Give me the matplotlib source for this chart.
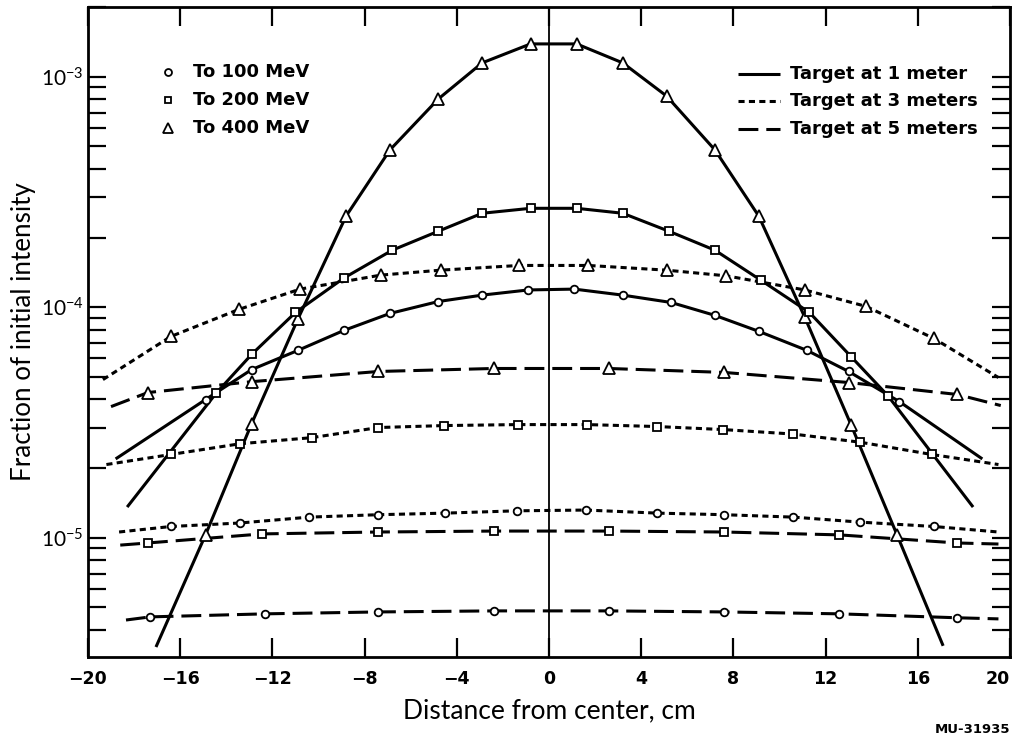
import matplotlib
matplotlib.use("Agg")
import matplotlib.pyplot as plt
from matplotlib.ticker import LogLocator, NullFormatter

# ---------------- data ----------------
xticks = [-20, -16, -12, -8, -4, 0, 4, 8, 12, 16, 20]
xtick_labels = ["\u221220", "\u221216", "\u221212", "\u22128", "\u22124", "0", "4", "8", "12", "16", "20"]
yticks = [1e-5, 1e-4, 1e-3]
ytick_labels = [r"$10^{-5}$", r"$10^{-4}$", r"$10^{-3}$"]

# 400 MeV, target at 1 m (solid, triangles)
a_mx = [-14.9, -12.9, -10.9, -8.8, -6.9, -4.8, -2.9, -0.8, 1.2, 3.2, 5.1, 7.2, 9.1, 11.1, 13.1, 15.1]
a_my = [1.03e-5, 3.13e-5, 8.87e-5, 2.49e-4, 4.82e-4, 8.02e-4, 1.15e-3, 1.39e-3, 1.39e-3, 1.15e-3,
        8.26e-4, 4.82e-4, 2.49e-4, 9.05e-5, 3.1e-5, 1.03e-5]
a_end_x = [-17.05, 17.1]
a_end_y = [3.36e-6, 3.4e-6]

# 200 MeV, 1 m (solid, squares)
b_mx = [-14.45, -12.9, -11.0, -8.9, -6.8, -4.8, -2.9, -0.8, 1.2, 3.2, 5.2, 7.2, 9.2, 11.3, 13.1, 14.7]
b_my = [4.23e-5, 6.25e-5, 9.5e-5, 1.34e-4, 1.77e-4, 2.14e-4, 2.56e-4, 2.69e-4, 2.69e-4, 2.56e-4,
        2.14e-4, 1.77e-4, 1.31e-4, 9.5e-5, 6.12e-5, 4.14e-5]
b_end_x = [-18.3, 18.4]
b_end_y = [1.36e-5, 1.36e-5]

# 100 MeV, 1 m (solid, circles)
c_mx = [-14.9, -12.9, -10.9, -8.9, -6.9, -4.8, -2.9, -0.9, 1.1, 3.2, 5.3, 7.2, 9.1, 11.2, 13.0, 15.2]
c_my = [3.98e-5, 5.37e-5, 6.5e-5, 7.94e-5, 9.41e-5, 1.06e-4, 1.13e-4, 1.19e-4, 1.2e-4, 1.13e-4,
        1.05e-4, 9.23e-5, 7.87e-5, 6.5e-5, 5.27e-5, 3.9e-5]
c_end_x = [-18.8, 18.8]
c_end_y = [2.2e-5, 2.2e-5]

# 400 MeV, 3 m (dotted, triangles)
d_mx = [-16.4, -13.45, -10.8, -7.3, -4.7, -1.3, 1.7, 5.1, 7.7, 11.1, 13.75, 16.7]
d_my = [7.48e-5, 9.8e-5, 1.2e-4, 1.38e-4, 1.45e-4, 1.52e-4, 1.52e-4, 1.45e-4, 1.37e-4, 1.19e-4,
        1.01e-4, 7.33e-5]
d_end_x = [-19.35, 19.5]
d_end_y = [4.86e-5, 4.96e-5]

# 400 MeV, 5 m (dashed, triangles)
e_mx = [-17.4, -12.9, -7.4, -2.4, 2.6, 7.6, 13.0, 17.7]
e_my = [4.27e-5, 4.76e-5, 5.27e-5, 5.43e-5, 5.43e-5, 5.22e-5, 4.72e-5, 4.19e-5]
e_end_x = [-19.0, 19.6]
e_end_y = [3.71e-5, 3.75e-5]

# 200 MeV, 3 m (dotted, squares)
f_mx = [-16.4, -13.4, -10.3, -7.4, -4.55, -1.35, 1.65, 4.7, 7.55, 10.6, 13.5, 16.6]
f_my = [2.3e-5, 2.56e-5, 2.72e-5, 3.01e-5, 3.07e-5, 3.1e-5, 3.1e-5, 3.04e-5, 2.95e-5, 2.82e-5,
        2.6e-5, 2.3e-5]
f_end_x = [-19.2, 19.5]
f_end_y = [2.08e-5, 2.08e-5]

# 100 MeV, 3 m (dotted, circles)
g_mx = [-16.4, -13.4, -10.4, -7.4, -4.5, -1.4, 1.6, 4.7, 7.6, 10.6, 13.5, 16.7]
g_my = [1.12e-5, 1.16e-5, 1.23e-5, 1.26e-5, 1.28e-5, 1.31e-5, 1.32e-5, 1.28e-5, 1.26e-5, 1.23e-5,
        1.17e-5, 1.12e-5]
g_end_x = [-18.65, 19.5]
g_end_y = [1.06e-5, 1.06e-5]

# 200 MeV, 5 m (dashed, squares)
h_mx = [-17.4, -12.45, -7.4, -2.4, 2.6, 7.6, 12.6, 17.7]
h_my = [9.5e-6, 1.04e-5, 1.06e-5, 1.07e-5, 1.07e-5, 1.06e-5, 1.03e-5, 9.5e-6]
h_end_x = [-18.6, 19.5]
h_end_y = [9.3e-6, 9.4e-6]

# 100 MeV, 5 m (dashed, circles)
i_mx = [-17.3, -12.3, -7.4, -2.4, 2.6, 7.6, 12.6, 17.7]
i_my = [4.54e-6, 4.68e-6, 4.77e-6, 4.82e-6, 4.82e-6, 4.77e-6, 4.68e-6, 4.5e-6]
i_end_x = [-18.35, 19.5]
i_end_y = [4.4e-6, 4.45e-6]

energy_labels = ["To 100 MeV", "To 200 MeV", "To 400 MeV"]
target_labels = ["Target at 1 meter", "Target at 3 meters", "Target at 5 meters"]

# ---------------- styling ----------------
plt.rcParams["font.family"] = ["Lato", "DejaVu Sans"]
plt.rcParams["mathtext.fontset"] = "custom"
plt.rcParams["mathtext.rm"] = "Lato"
plt.rcParams["mathtext.it"] = "Lato"
plt.rcParams["mathtext.bf"] = "Lato:bold"
BOLD = ["DejaVu Sans"]

LW = 2.2
styles = {
    "solid": dict(linestyle="-"),
    "dotted": dict(linestyle=(0, (2.0, 1.4))),
    "dashed": dict(linestyle=(0, (6.5, 2.6))),
}
markers = {"o": dict(marker="o", ms=5.5), "s": dict(marker="s", ms=5.5), "^": dict(marker="^", ms=8)}

fig = plt.figure(figsize=(10.17, 7.44), dpi=100)
ax = fig.add_axes([0.0865, 0.1169, 0.9066, 0.8737])

curves = [
    (a_mx, a_my, a_end_x, a_end_y, "solid", "^"),
    (b_mx, b_my, b_end_x, b_end_y, "solid", "s"),
    (c_mx, c_my, c_end_x, c_end_y, "solid", "o"),
    (d_mx, d_my, d_end_x, d_end_y, "dotted", "^"),
    (e_mx, e_my, e_end_x, e_end_y, "dashed", "^"),
    (f_mx, f_my, f_end_x, f_end_y, "dotted", "s"),
    (g_mx, g_my, g_end_x, g_end_y, "dotted", "o"),
    (h_mx, h_my, h_end_x, h_end_y, "dashed", "s"),
    (i_mx, i_my, i_end_x, i_end_y, "dashed", "o"),
]

ax.axvline(0, color="black", lw=1.3, zorder=1)

for mx, my, ex, ey, ls, mk in curves:
    lx = [ex[0]] + list(mx) + [ex[1]]
    ly = [ey[0]] + list(my) + [ey[1]]
    ax.plot(lx, ly, color="black", lw=LW, zorder=2, solid_capstyle="butt",
            dash_capstyle="butt", **styles[ls])
    ax.plot(mx, my, ls="none", mfc="white", mec="black", mew=1.3, zorder=3, **markers[mk])

ax.set_yscale("log")
ax.set_xlim(-20, 20)
ax.set_ylim(3.04e-6, 2.01e-3)

ax.set_xticks(xticks)
ax.set_xticklabels(xtick_labels, fontsize=12.5, fontweight="bold", family=BOLD)
ax.get_xticklabels()[-1].set_horizontalalignment("right")
ax.set_yticks(yticks)
ax.set_yticklabels(ytick_labels, fontsize=15)
ax.yaxis.set_minor_locator(LogLocator(base=10, subs=[2, 3, 4, 5, 6, 7, 8, 9], numticks=20))
ax.yaxis.set_minor_formatter(NullFormatter())

ax.tick_params(axis="both", which="both", direction="in", top=True, right=True, width=1.6)
ax.tick_params(axis="x", which="major", length=14, pad=9)
ax.tick_params(axis="y", which="major", length=13, pad=3)
ax.tick_params(axis="y", which="minor", length=13)
for sp in ax.spines.values():
    sp.set_linewidth(2.0)

ax.set_xlabel("Distance from center, cm", fontsize=19, labelpad=8)
ax.set_ylabel("Fraction of initial intensity", fontsize=18.7)
ax.yaxis.set_label_coords(-0.056, 0.50)

# legend: energies (markers)
rows_e = [0.900, 0.857, 0.814]
for mk, lab, yy in zip(["o", "s", "^"], energy_labels, rows_e):
    m = dict(markers[mk])
    m["ms"] = 7 if mk == "^" else 5
    ax.plot([0.0868], [yy], transform=ax.transAxes, ls="none", mfc="white", mec="black",
            mew=1.3, clip_on=False, **m)
    ax.text(0.114, yy, lab, transform=ax.transAxes, fontsize=13, fontweight="bold",
            family=BOLD, va="center", ha="left")

# legend: targets (lines)
rows_t = [0.897, 0.855, 0.812]
for ls, lab, yy in zip(["solid", "dotted", "dashed"], target_labels, rows_t):
    ax.plot([0.7050, 0.7505], [yy, yy], transform=ax.transAxes, color="black", lw=LW,
            clip_on=False, solid_capstyle="butt", dash_capstyle="butt", **styles[ls])
    ax.text(0.7614, yy, lab, transform=ax.transAxes, fontsize=13, fontweight="bold",
            family=BOLD, va="center", ha="left")

fig.text(0.993, 0.019, "MU-31935", fontsize=9.5, fontweight="bold", family=BOLD,
         ha="right", va="center")

fig.savefig("out.png", dpi=100)
